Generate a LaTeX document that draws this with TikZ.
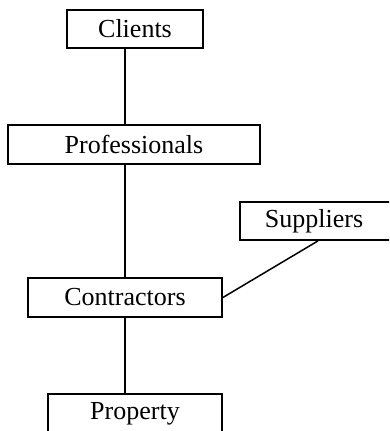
\documentclass[tikz,border=0pt]{standalone}
\usepackage{fontspec}
\setmainfont{Liberation Serif}
\begin{document}
\begin{tikzpicture}[x=1pt,y=1pt,
  boxnode/.style={draw,line width=1.8pt,rectangle,inner sep=0pt,
    font=\fontsize{26}{30}\selectfont},
  conn/.style={line width=1.5pt}]
\useasboundingbox (0,0) rectangle (389,431);
\clip (0,0) rectangle (389,431);
\node[boxnode,minimum width=160pt,minimum height=38pt] (supp) at (320,210) {};
\node (supptext) at (314,210) {\fontsize{26}{30}\selectfont Suppliers};
\node[boxnode,minimum width=136pt,minimum height=38pt] (clients) at (135,402) {Clients};
\node[boxnode,minimum width=252pt,minimum height=39pt] (prof) at (134,286.5) {Professionals};
\node[boxnode,minimum width=194pt,minimum height=39pt] (contr) at (125,133.5) {Contractors};
\node[boxnode,minimum width=174pt,minimum height=40pt] (prop) at (135,17) {Property};
\coordinate (vx) at (125,0);
\coordinate (sx) at (318,0);
\draw[conn] (clients.south -| vx) -- (prof.north -| vx);
\draw[conn] (prof.south -| vx) -- (contr.north -| vx);
\draw[conn] (contr.south -| vx) -- (prop.north -| vx);
\draw[conn] (supp.south -| sx) -- (contr.east);
\end{tikzpicture}
\end{document}
